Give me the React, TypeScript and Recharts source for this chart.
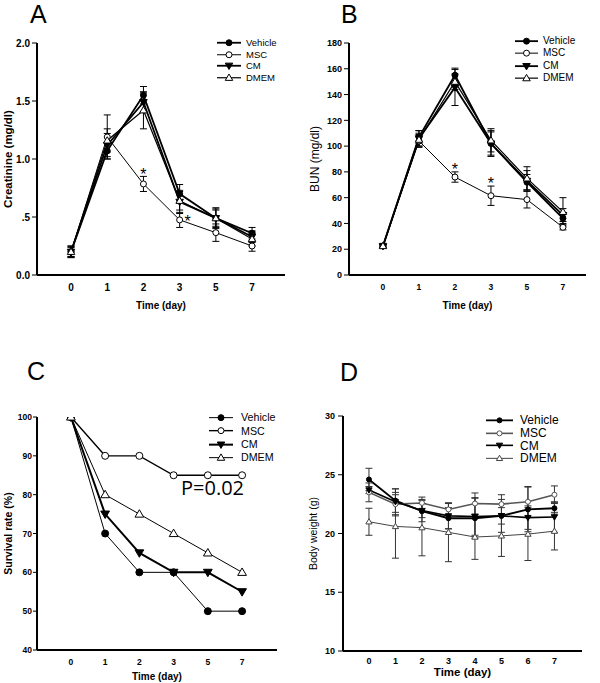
import { LineChart, Line, XAxis, YAxis, ErrorBar, Legend, LabelList, Label } from "recharts"

const FONT = "'Liberation Sans', Arial, sans-serif"
const P_FONT = "'Open Sans', 'Noto Sans', sans-serif"

// A - creatinine
const daysAB = ["0", "1", "2", "3", "5", "7"]
const creatVehicle = [0.2, 1.07, 1.55, 0.7, 0.49, 0.36]
const creatVehicleErr = [0.05, 0.07, 0.075, 0.08, 0.09, 0.05]
const creatMSC = [0.2, 1.19, 0.785, 0.475, 0.365, 0.25]
const creatMSCErr = [0.05, 0.19, 0.065, 0.065, 0.075, 0.045]
const creatCM = [0.2, 1.12, 1.49, 0.63, 0.49, 0.33]
const creatCMErr = [0.04, 0.1, 0.08, 0.1, 0.08, 0.05]
const creatDMEM = [0.2, 1.16, 1.42, 0.64, 0.49, 0.31]
const creatDMEMErr = [0.04, 0.1, 0.16, 0.08, 0.07, 0.06]
const creatTicks = [0, 0.5, 1, 1.5, 2]
const creatTickLabels = ["0.0", ".5", "1.0", "1.5", "2.0"]

// B - BUN
const bunVehicle = [22.5, 107, 155, 102, 72, 44]
const bunVehicleErr = [1, 5, 5.5, 10, 6, 4]
const bunMSC = [22.5, 104, 76, 61.5, 58.5, 37]
const bunMSCErr = [1, 5, 4, 7.5, 6.5, 2]
const bunCM = [22.5, 106, 145.5, 102, 73, 46.5]
const bunCMErr = [1, 6, 14, 9, 8, 5]
const bunDMEM = [22.5, 105, 150, 104.5, 75, 49]
const bunDMEMErr = [1, 5, 6, 9, 9, 11]
const bunTicks = [0, 20, 40, 60, 80, 100, 120, 140, 160, 180]

// C - survival
const survVehicle = [100, 70, 60, 60, 50, 50]
const survMSC = [100, 90, 90, 85, 85, 85]
const survCM = [100, 75, 65, 60, 60, 55]
const survDMEM = [100, 80, 75, 70, 65, 60]
const survTicks = [40, 50, 60, 70, 80, 90, 100]

// D - body weight
const daysD = ["0", "1", "2", "3", "4", "5", "6", "7"]
const bwVehicle = [24.6, 22.8, 21.9, 21.3, 21.3, 21.5, 22.05, 22.15]
const bwVehicleErr = [0.95, 1.0, 0.9, 0.9, 1.7, 1.4, 1.9, 0.5]
const bwMSC = [23.5, 22.5, 22.6, 22.05, 22.55, 22.5, 22.7, 23.3]
const bwMSCErr = [0.8, 1.0, 0.5, 0.5, 0.9, 0.8, 1.3, 0.75]
const bwCM = [23.7, 22.7, 21.95, 21.5, 21.45, 21.5, 21.35, 21.4]
const bwCMErr = [0.3, 1.1, 0.6, 1.1, 1.6, 0.7, 1.0, 1.3]
const bwDMEM = [21.0, 20.6, 20.5, 20.1, 19.7, 19.8, 19.95, 20.2]
const bwDMEMErr = [1.15, 2.7, 2.4, 2.5, 1.9, 1.75, 2.25, 1.6]
const bwTicks = [10, 15, 20, 25, 30]

const build = (days: string[], v: number[], m: number[], c: number[], d: number[], ve?: number[], me?: number[], ce?: number[], de?: number[]) =>
  days.map((_, i) => ({
    i,
    vehicle: v[i], msc: m[i], cm: c[i], dmem: d[i],
    vehicleErr: ve ? ve[i] : 0, mscErr: me ? me[i] : 0, cmErr: ce ? ce[i] : 0, dmemErr: de ? de[i] : 0,
  }))

const creatData = build(daysAB, creatVehicle, creatMSC, creatCM, creatDMEM, creatVehicleErr, creatMSCErr, creatCMErr, creatDMEMErr)
const bunData = build(daysAB, bunVehicle, bunMSC, bunCM, bunDMEM, bunVehicleErr, bunMSCErr, bunCMErr, bunDMEMErr)
const survData = build(daysAB, survVehicle, survMSC, survCM, survDMEM)
const bwData = build(daysD, bwVehicle, bwMSC, bwCM, bwDMEM, bwVehicleErr, bwMSCErr, bwCMErr, bwDMEMErr)

type Shape = "circle" | "down" | "up"
interface SeriesStyle { key: string; name: string; shape: Shape; filled: boolean; color: string; width: number }

const seriesAB: SeriesStyle[] = [
  { key: "vehicle", name: "Vehicle", shape: "circle", filled: true, color: "#000", width: 1.8 },
  { key: "msc", name: "MSC", shape: "circle", filled: false, color: "#000", width: 1 },
  { key: "cm", name: "CM", shape: "down", filled: true, color: "#000", width: 1.8 },
  { key: "dmem", name: "DMEM", shape: "up", filled: false, color: "#000", width: 1.2 },
]
const seriesC: SeriesStyle[] = [
  { key: "vehicle", name: "Vehicle", shape: "circle", filled: true, color: "#000", width: 1 },
  { key: "msc", name: "MSC", shape: "circle", filled: false, color: "#000", width: 1.4 },
  { key: "cm", name: "CM", shape: "down", filled: true, color: "#000", width: 2 },
  { key: "dmem", name: "DMEM", shape: "up", filled: false, color: "#000", width: 1 },
]
const seriesD: SeriesStyle[] = [
  { key: "vehicle", name: "Vehicle", shape: "circle", filled: true, color: "#000", width: 1.8 },
  { key: "msc", name: "MSC", shape: "circle", filled: false, color: "#555", width: 1.6 },
  { key: "cm", name: "CM", shape: "down", filled: true, color: "#000", width: 1.6 },
  { key: "dmem", name: "DMEM", shape: "up", filled: false, color: "#444", width: 1 },
]

function Marker({ cx, cy, shape, filled, r, color }: any) {
  if (cx == null || cy == null) return null
  const fill = filled ? color : "#fff"
  if (shape === "circle") return <circle cx={cx} cy={cy} r={r} fill={fill} stroke={color} strokeWidth={1} />
  const s = r * 1.25
  const pts =
    shape === "down"
      ? `${cx - s},${cy - s * 0.7} ${cx + s},${cy - s * 0.7} ${cx},${cy + s}`
      : `${cx - s},${cy + s * 0.7} ${cx + s},${cy + s * 0.7} ${cx},${cy - s}`
  return <polygon points={pts} fill={fill} stroke={color} strokeWidth={1} />
}

function LegendBox({ series, r, rowH, lineW, gap, fontSize }: any) {
  return (
    <div style={{ fontFamily: FONT, fontSize, color: "#000", lineHeight: 1 }}>
      {series.map((s: SeriesStyle) => (
        <div key={s.key} style={{ display: "flex", alignItems: "center", height: rowH }}>
          <svg width={lineW} height={rowH} style={{ display: "block" }}>
            <line x1={0} x2={lineW} y1={rowH / 2} y2={rowH / 2} stroke={s.color} strokeWidth={s.width} />
            <Marker cx={lineW / 2} cy={rowH / 2} shape={s.shape} filled={s.filled} r={r} color={s.color} />
          </svg>
          <span style={{ marginLeft: gap, whiteSpace: "nowrap" }}>{s.name}</span>
        </div>
      ))}
    </div>
  )
}

const yLabel = (text: string, dx: number, fontSize: number, weight: string) => (props: any) => {
  const vb = props.viewBox
  const cx = vb.x + dx
  const cy = vb.y + vb.height / 2
  return (
    <text x={cx} y={cy} transform={`rotate(-90 ${cx} ${cy})`} textAnchor="middle" dominantBaseline="central"
      fontSize={fontSize} fontWeight={weight} fontFamily={FONT} fill="#000">
      {text}
    </text>
  )
}

const starContent = (stars: Record<number, [number, number]>) => (props: any) => {
  const st = stars[props.index]
  if (!st) return null
  return (
    <text x={props.x + st[0]} y={props.y + st[1] + 9} textAnchor="middle" fontSize={16} fontFamily={FONT} fill="#000">
      *
    </text>
  )
}

function Panel(p: any) {
  return (
    <div style={{ position: "absolute", left: p.left, top: p.top, width: p.width, height: p.height }}>
      <LineChart width={p.width} height={p.height} data={p.data} margin={p.margin}>
        <XAxis
          type="number" dataKey="i" domain={p.xDomain} ticks={p.xTicks} allowDataOverflow
          tickFormatter={(v: number) => p.xLabels[v]}
          axisLine={{ stroke: "#000", strokeWidth: 2 }} tickLine={false}
          tickSize={p.xTickGap} tickMargin={0} height={p.xHeight}
          tick={{ fill: "#000", fontSize: p.tickFont, fontWeight: "bold", fontFamily: FONT }}
        >
          <Label value="Time (day)" position="insideBottom" offset={p.xLabelOffset} fill="#000"
            fontSize={p.xLabelFont} fontWeight="bold" fontFamily={FONT} />
        </XAxis>
        <YAxis
          type="number" domain={p.yDomain} ticks={p.yTicks} allowDataOverflow width={p.yWidth}
          tickFormatter={p.yFmt}
          axisLine={{ stroke: "#000", strokeWidth: 2 }} tickLine={{ stroke: "#000", strokeWidth: 1 }}
          tickSize={p.yTickSize} tickMargin={p.yTickMargin}
          tick={{ fill: "#000", fontSize: p.yTickFont ?? p.tickFont, fontWeight: "bold", fontFamily: FONT }}
        >
          <Label content={yLabel(p.yLabel, p.yLabelDx, p.yLabelFont, p.yLabelWeight)} />
        </YAxis>
        <Legend
          layout="vertical" align="center" verticalAlign="middle"
          wrapperStyle={{ left: p.legend.left, top: p.legend.top, width: "auto" }}
          content={() => <LegendBox series={p.series} {...p.legend} />}
        />
        {p.series.map((s: SeriesStyle) => (
          <Line
            key={s.key} dataKey={s.key} name={s.name} stroke={s.color} strokeWidth={s.width}
            isAnimationActive={false} activeDot={false}
            dot={(d: any) => (
              <Marker key={`${s.key}-${d.index}`} cx={d.cx} cy={d.cy} shape={s.shape} filled={s.filled} r={p.r} color={s.color} />
            )}
          >
            {p.errors && (
              <ErrorBar dataKey={`${s.key}Err`} direction="y" width={3.5} strokeWidth={1} stroke={p.errColor} />
            )}
            {p.stars && s.key === "msc" && <LabelList dataKey="msc" content={starContent(p.stars)} />}
          </Line>
        ))}
      </LineChart>
    </div>
  )
}

const titleStyle = (left: number, top: number): any => ({
  position: "absolute", left, top, fontFamily: FONT, fontSize: 25, lineHeight: "normal", color: "#000",
})

export default function App() {
  return (
    <div style={{ position: "absolute", left: 0, top: 0, width: 600, height: 683, background: "#fff", overflow: "hidden" }}>
      <div style={titleStyle(30, 0)}>A</div>
      <div style={titleStyle(341, 0)}>B</div>
      <div style={titleStyle(27, 357)}>C</div>
      <div style={titleStyle(340, 358)}>D</div>

      <Panel
        left={0} top={0} width={300} height={330} data={creatData} series={seriesAB}
        margin={{ top: 43, left: 7, right: 15, bottom: 21 }}
        xDomain={[-0.94, 5.91]} xTicks={[0, 1, 2, 3, 4, 5]} xLabels={daysAB} xTickGap={9} xHeight={34}
        xLabelOffset={0} xLabelFont={10} tickFont={10}
        yDomain={[0, 2]} yTicks={creatTicks} yFmt={(v: number) => creatTickLabels[creatTicks.indexOf(v)]}
        yWidth={30} yTickSize={5} yTickMargin={2}
        yLabel="Creatinine (mg/dl)" yLabelDx={1} yLabelFont={11.5} yLabelWeight="bold"
        legend={{ left: 217, top: 37, r: 3, rowH: 11.5, lineW: 24, gap: 5, fontSize: 9.5 }}
        r={3} errors errColor="#000" stars={{ 2: [0, -13], 3: [8, -2] }}
      />
      <Panel
        left={300} top={0} width={300} height={330} data={bunData} series={seriesAB}
        margin={{ top: 43, left: 14, right: 14, bottom: 21 }}
        xDomain={[-0.944, 5.64]} xTicks={[0, 1, 2, 3, 4, 5]} xLabels={daysAB} xTickGap={9} xHeight={34}
        xLabelOffset={0} xLabelFont={10} tickFont={8.5} yTickFont={9}
        yDomain={[0, 180]} yTicks={bunTicks} yFmt={(v: number) => String(v)}
        yWidth={35} yTickSize={5} yTickMargin={2}
        yLabel="BUN (mg/dl)" yLabelDx={1} yLabelFont={12} yLabelWeight="normal"
        legend={{ left: 215, top: 35, r: 3, rowH: 12.3, lineW: 23, gap: 5, fontSize: 10 }}
        r={3} errors errColor="#000" stars={{ 2: [0, -11], 3: [0, -16] }}
      />
      <Panel
        left={0} top={330} width={300} height={353} data={survData} series={seriesC}
        margin={{ top: 87, left: 7, right: 23, bottom: 0 }}
        xDomain={[-0.99, 6.02]} xTicks={[0, 1, 2, 3, 4, 5]} xLabels={daysAB} xTickGap={9} xHeight={33}
        xLabelOffset={3} xLabelFont={10} tickFont={8.5}
        yDomain={[40, 100]} yTicks={survTicks} yFmt={(v: number) => String(v)}
        yWidth={30} yTickSize={4} yTickMargin={1}
        yLabel="Survival rate (%)" yLabelDx={1} yLabelFont={10.5} yLabelWeight="bold"
        legend={{ left: 209, top: 81, r: 3, rowH: 13.3, lineW: 24, gap: 8, fontSize: 10.7 }}
        r={3.5} errors={false}
      />
      <Panel
        left={300} top={330} width={300} height={353} data={bwData} series={seriesD}
        margin={{ top: 86, left: 8, right: 18, bottom: 0 }}
        xDomain={[-0.98, 8.04]} xTicks={[0, 1, 2, 3, 4, 5, 6, 7]} xLabels={daysD} xTickGap={7} xHeight={32}
        xLabelOffset={7} xLabelFont={11.5} tickFont={9}
        yDomain={[10, 30]} yTicks={bwTicks} yFmt={(v: number) => String(v)}
        yWidth={35} yTickSize={5} yTickMargin={3}
        yLabel="Body weight (g)" yLabelDx={5} yLabelFont={10.5} yLabelWeight="normal"
        legend={{ left: 186, top: 84, r: 2.5, rowH: 12.7, lineW: 27, gap: 7, fontSize: 12 }}
        r={2.5} errors errColor="#333"
      />

      <div style={{ position: "absolute", left: 181, top: 478, fontFamily: P_FONT, fontSize: 20, lineHeight: "20px", color: "#000" }}>
        P=0.02
      </div>
    </div>
  )
}
